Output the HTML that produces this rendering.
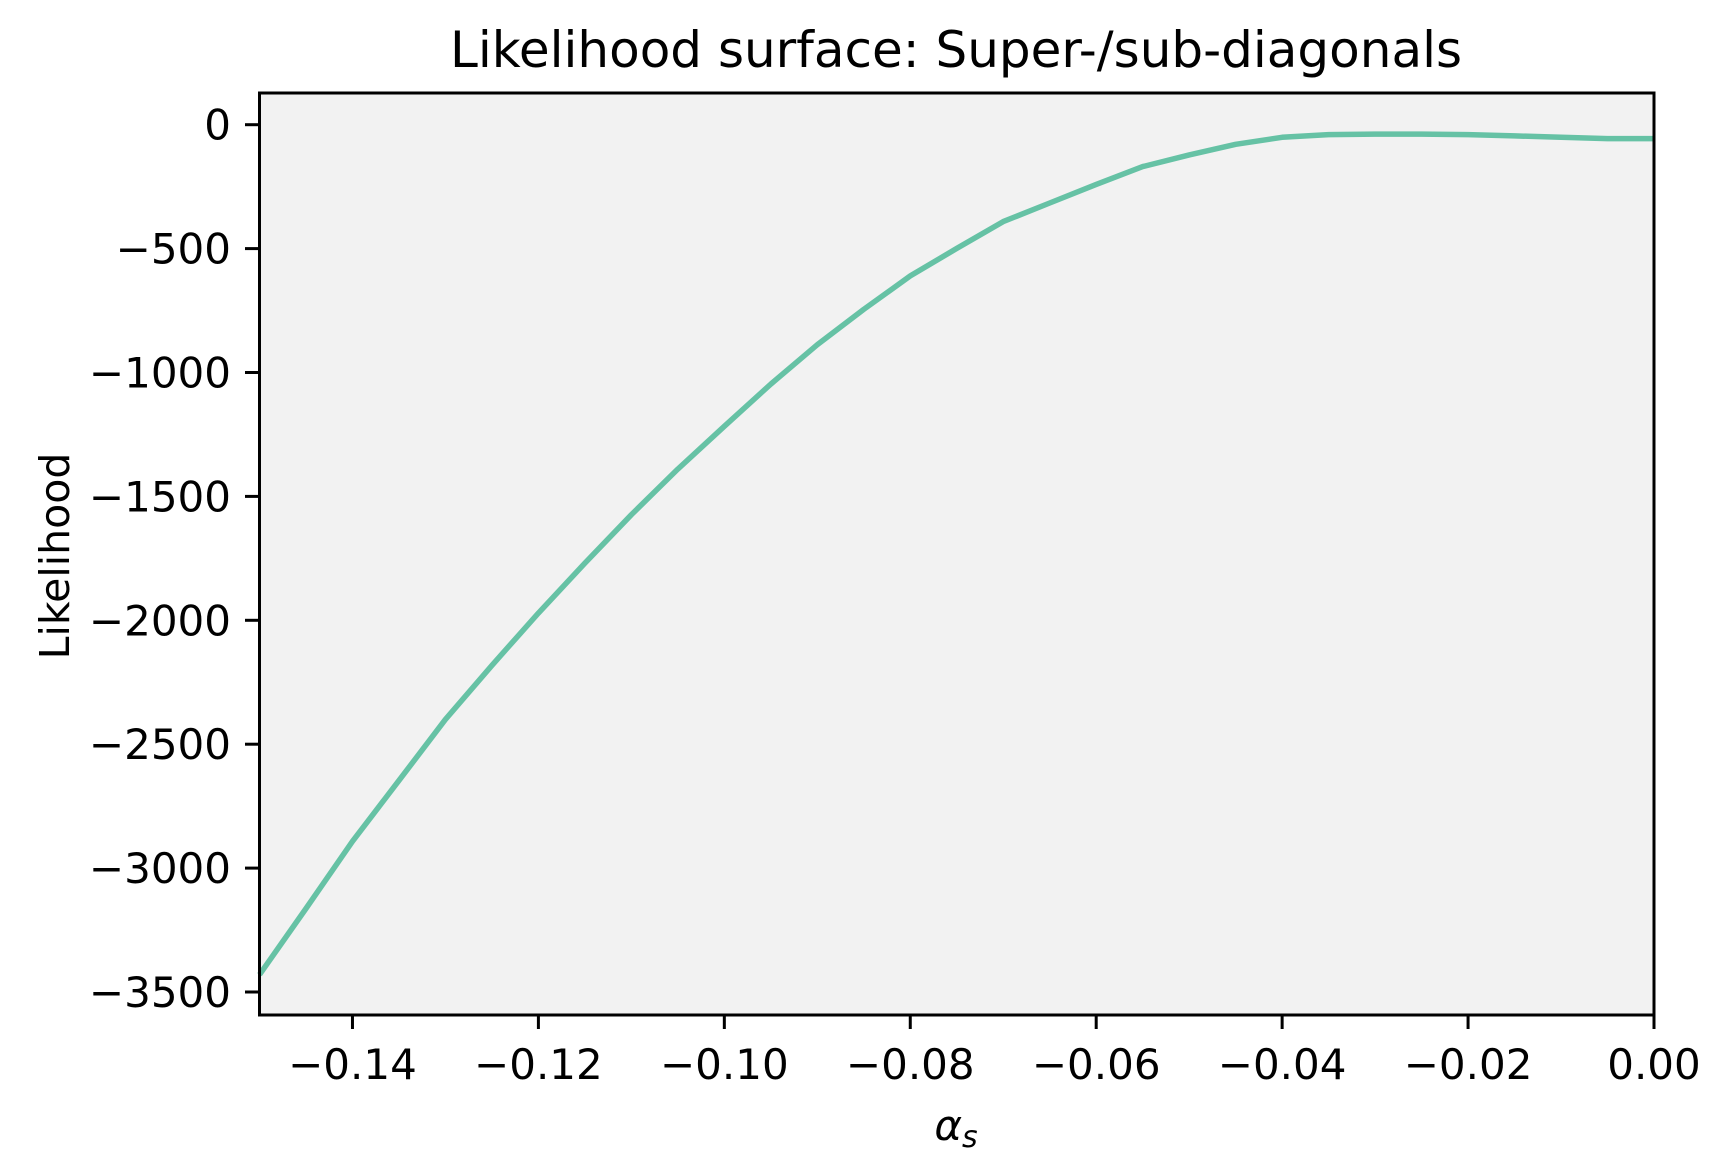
<!DOCTYPE html>
<html><head><meta charset="utf-8"><style>
html,body{margin:0;padding:0;background:#fff;}
svg{display:block;font-family:"DejaVu Sans","Liberation Sans",sans-serif;}
</style></head><body>
<svg id="chart" width="1730" height="1176" viewBox="0 0 1730 1176">
<rect x="0" y="0" width="1730" height="1176" fill="#ffffff"/>
<rect x="259.5" y="93" width="1394.5" height="922" fill="#f2f2f2"/>
<g id="ticks"></g>
<path id="series" fill="none" stroke="#66c2a5" stroke-width="5.5" stroke-linejoin="round"/>
<rect x="259.5" y="93" width="1394.5" height="922" fill="none" stroke="#000" stroke-width="3"/>
<text x="956" y="67" font-size="50" text-anchor="middle">Likelihood surface: Super-/sub-diagonals</text>
<text x="956" y="1140" font-size="42" text-anchor="middle" font-style="italic">α<tspan font-size="30" dy="7">s</tspan></text>
<text transform="translate(69,556) rotate(-90)" font-size="41" text-anchor="middle">Likelihood</text>
</svg>
<script>
const alphaValues = [-0.15,-0.145,-0.14,-0.135,-0.13,-0.125,-0.12,-0.115,-0.11,-0.105,-0.10,-0.095,-0.09,-0.085,-0.08,-0.075,-0.07,-0.065,-0.06,-0.055,-0.05,-0.045,-0.04,-0.035,-0.03,-0.025,-0.02,-0.015,-0.01,-0.005,0];
const likelihoodValues = [-3430,-3163,-2892,-2647,-2400,-2182,-1971,-1769,-1574,-1390,-1217,-1047,-888,-745,-610,-499,-391,-316,-241,-169,-122,-79,-51,-40,-38,-38,-40,-45,-51,-56,-56];
const xTicks = [-0.14,-0.12,-0.10,-0.08,-0.06,-0.04,-0.02,0.00];
const xTickLabels = ["−0.14","−0.12","−0.10","−0.08","−0.06","−0.04","−0.02","0.00"];
const yTicks = [0,-500,-1000,-1500,-2000,-2500,-3000,-3500];
const yTickLabels = ["0","−500","−1000","−1500","−2000","−2500","−3000","−3500"];

const X0=259.5, X1=1654, XMIN=-0.15, XMAX=0;
const Y0=124.7, YPER=123.9/500;
function xs(v){return X0+(v-XMIN)/(XMAX-XMIN)*(X1-X0);}
function ys(v){return Y0 - v*YPER;}
const NS="http://www.w3.org/2000/svg";
const g=document.getElementById('ticks');
xTicks.forEach((t,i)=>{
  const l=document.createElementNS(NS,'line');
  l.setAttribute('x1',xs(t));l.setAttribute('x2',xs(t));l.setAttribute('y1',1015);l.setAttribute('y2',1029);
  l.setAttribute('stroke','#000');l.setAttribute('stroke-width','3');
  
  
  g.appendChild(l);
  const tx=document.createElementNS(NS,'text');
  tx.setAttribute('x',xs(t));tx.setAttribute('y',1079);tx.setAttribute('font-size','42');tx.setAttribute('text-anchor','middle');
  tx.textContent=xTickLabels[i];
  
  
  g.appendChild(tx);
});
yTicks.forEach((t,i)=>{
  const l=document.createElementNS(NS,'line');
  l.setAttribute('x1',245);l.setAttribute('x2',259.5);l.setAttribute('y1',ys(t));l.setAttribute('y2',ys(t));
  l.setAttribute('stroke','#000');l.setAttribute('stroke-width','3');
  
  
  g.appendChild(l);
  const tx=document.createElementNS(NS,'text');
  tx.setAttribute('x',231);tx.setAttribute('y',ys(t)+15);tx.setAttribute('font-size','42');tx.setAttribute('text-anchor','end');
  tx.textContent=yTickLabels[i];
  
  
  g.appendChild(tx);
});
let d='';
alphaValues.forEach((a,i)=>{d+=(i?'L':'M')+xs(a).toFixed(1)+','+ys(likelihoodValues[i]).toFixed(1);});
document.getElementById('series').setAttribute('d',d);
</script>
</body></html>
